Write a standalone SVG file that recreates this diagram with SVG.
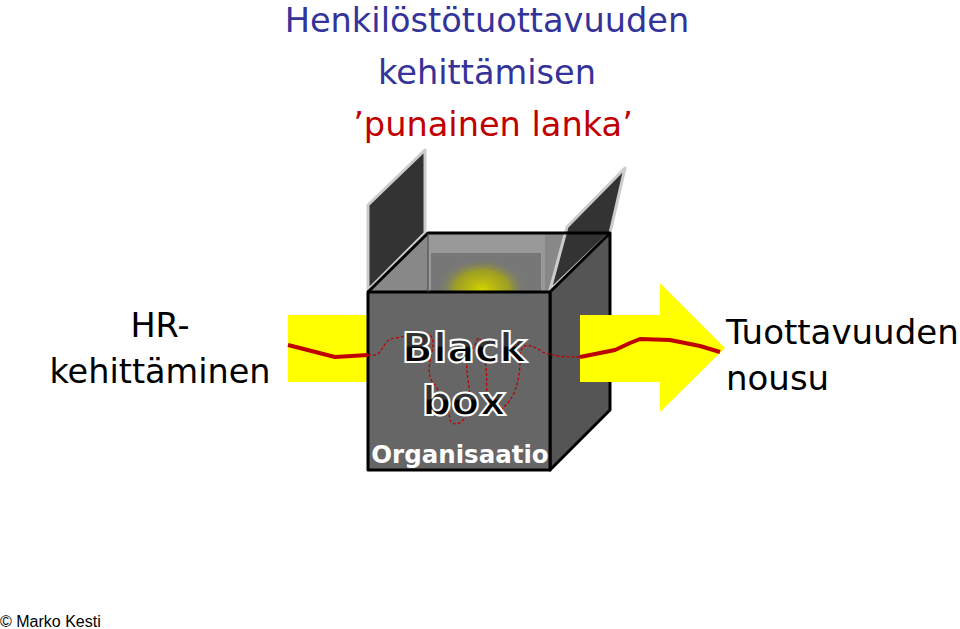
<svg xmlns="http://www.w3.org/2000/svg" width="960" height="629" viewBox="0 0 960 629">
<defs>
<radialGradient id="glow" cx="0.5" cy="0.5" r="0.5"><stop offset="0" stop-color="#d4d400"/><stop offset="0.6" stop-color="#b0b000" stop-opacity="0.7"/><stop offset="1" stop-color="#777" stop-opacity="0"/></radialGradient>
<linearGradient id="txt" x1="0" y1="0" x2="0" y2="1"><stop offset="0.45" stop-color="#333"/><stop offset="0.5" stop-color="#000"/></linearGradient>
<style>
.t{font-family:"DejaVu Sans",Verdana,sans-serif}
.edge{stroke:#000;stroke-width:3;stroke-linejoin:round}
.flap{fill:#333;stroke:#ccc;stroke-width:3;stroke-linejoin:round}
</style>
</defs>
<rect width="960" height="629" fill="#fff"/>
<g id="title" class="t" text-anchor="middle">
<text x="487" y="32" font-size="33.6" fill="#333399">Henkilöstötuottavuuden</text>
<text x="487" y="84" font-size="33.6" fill="#333399">kehittämisen</text>
<text x="493" y="136" font-size="33.6" fill="#c00000">’punainen lanka’</text>
</g>
<g id="input">
<rect x="288" y="315" width="82" height="67" fill="#ffff00"/>
<text class="t" x="160" y="337" font-size="33.5" text-anchor="middle">HR-</text>
<text class="t" x="160" y="383" font-size="33.5" text-anchor="middle">kehittäminen</text>
</g>
<g id="box">
<polygon points="368,292 428,233 610,233 550,292" fill="#888"/>
<rect x="428" y="233" width="117" height="59" fill="#999"/>
<rect x="431" y="253" width="110" height="39" fill="#777"/>
<ellipse cx="482" cy="290" rx="45" ry="32" fill="url(#glow)"/>
<polygon class="flap" points="368,290 368,205 425,150 425,233"/>
<polygon class="flap" points="550,290 567,227 625,168 610,233"/>
<polygon class="edge" points="550,292 610,233 610,410 550,470" fill="#555"/>
<polyline class="edge" points="368,292 428,233 610,233" fill="none"/>
<rect class="edge" x="368" y="292" width="182" height="178" fill="#666"/>
<line x1="428" y1="233" x2="428" y2="292" stroke="#444" stroke-width="1"/>
</g>
<g id="output">
<polygon points="580,315 660,315 660,283 725,348 660,412 660,382 580,382" fill="#ffff00"/>
<text class="t" x="726" y="344" font-size="34" >Tuottavuuden</text>
<text class="t" x="726" y="390" font-size="34">nousu</text>
</g>
<g id="connectors" fill="none" stroke="#c00000" stroke-linejoin="round">
<polyline points="288,345 335,357 368,355" stroke-width="4"/>
<polyline points="580,357 615,350 630,343 640,339 670,340 700,346 720,352" stroke-width="4"/>
<path d="M368,355 C385,358 380,340 395,338 C410,336 420,330 430,335 C440,345 420,370 435,385 C445,400 450,415 450,420 C455,430 470,420 470,400 C470,380 460,360 475,345 C480,330 480,340 485,360 C490,385 480,410 500,410 C515,400 520,380 520,360 C520,340 530,345 540,350 C545,355 560,357 580,357" stroke-width="1.3" stroke-dasharray="3,2"/>
</g>
<g id="labels" class="t" font-weight="bold" text-anchor="middle">
<text x="464" y="362" font-size="41" fill="url(#txt)" stroke="#fff" stroke-width="2">Black</text>
<text x="464" y="415" font-size="41" fill="url(#txt)" stroke="#fff" stroke-width="2">box</text>
<text x="460" y="463" font-size="24.5" fill="#fff">Organisaatio</text>
</g>
<text x="0" y="627" font-size="16" style="font-family:'Liberation Sans',sans-serif">© Marko Kesti</text>
</svg>
